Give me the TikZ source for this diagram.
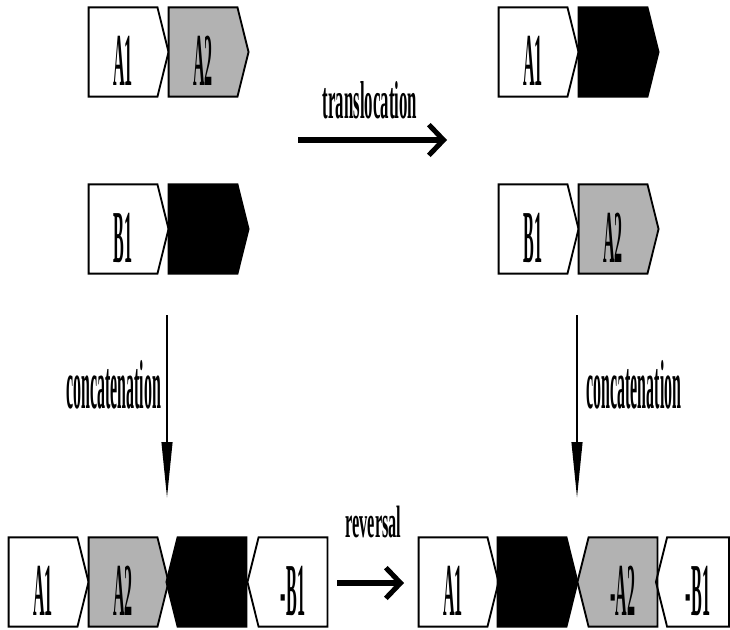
\documentclass[tikz,border=0pt]{standalone}
\usepackage{fontspec}
\setmainfont{Liberation Serif}
\usetikzlibrary{shapes.symbols,arrows.meta}
\newcommand\squeeze[2]{\scalebox{#1}[1]{#2}}

\tikzset{
  seg/.style={signal, draw=black, line width=1.4pt, inner sep=0pt,
    minimum width=60pt, minimum height=67pt, signal pointer angle=152,
    signal from=nowhere},
  fwd/.style={seg, signal to=east},
  rev/.style={seg, signal to=west},
  stip/.style={fill=black!30},
  solid/.style={fill=black},
  segtxt/.style={anchor=base, inner sep=0pt, font=\fontsize{56pt}{56pt}\selectfont\bfseries},
  steplbl/.style={anchor=base, inner sep=0pt},
  bigarrow/.style={line width=3.8pt, -{Straight Barb[length=11pt,width=23pt]}},
  thinarrow/.style={line width=1.5pt, -{Triangle[length=42pt,width=8pt]}}
}

\begin{document}
\begin{tikzpicture}[x=0.75pt,y=-0.75pt]
  \useasboundingbox (0,0) rectangle (730,629);
  % before translocation
  \node[fwd] (a1) at (123,52) {};
  \node[fwd,stip] (a2) at (203,52) {};
  \node[fwd] (b1) at (123,229) {};
  \node[fwd,solid] (b2) at (203,229) {};
  % after translocation
  \node[fwd] (ta1) at (533,52) {};
  \node[fwd,solid] (tb2) at (613,52) {};
  \node[fwd] (tb1) at (533,229) {};
  \node[fwd,stip] (ta2) at (613,229) {};
  % concatenations
  \node[fwd] (ca1) at (43,582) {};
  \node[fwd,stip] (ca2) at (123,582) {};
  \node[rev,solid] (cb2) at (212,582) {};
  \node[rev] (cb1) at (293,582) {};
  \node[fwd] (ra1) at (453,582) {};
  \node[fwd,solid] (rb2) at (532,582) {};
  \node[rev,stip] (ra2) at (623,582) {};
  \node[rev,minimum width=54.75pt] (rb1) at (698,582) {};
  \foreach \n/\t in {a1/A1,a2/A2,b1/B1,ta1/A1,tb1/B1,ta2/A2,
                     ca1/A1,ca2/A2,cb1/-B1,ra1/A1,ra2/-A2,rb1/-B1}
    \node[segtxt] (\n-t) at ([yshift=-24.75pt]\n.center) {\squeeze{0.215}{\t}};

  % arrows
  \coordinate (tr-s) at (298,140);
  \coordinate (tr-e) at (447,140);
  \draw[bigarrow] (tr-s) -- (tr-e);
  \node[steplbl,font=\fontsize{40pt}{40pt}\selectfont\bfseries] (tr-l) at (370,118) {\squeeze{0.315}{translocation}};

  \coordinate (cl-s) at (167,315);
  \coordinate (cl-e) at (167,498);
  \draw[thinarrow] (cl-s) -- (cl-e);
  \node[steplbl,font=\fontsize{52pt}{52pt}\selectfont\bfseries] (cl-l) at (113.5,408) {\squeeze{0.23}{concatenation}};

  \coordinate (cr-s) at (577,315);
  \coordinate (cr-e) at (577,498);
  \draw[thinarrow] (cr-s) -- (cr-e);
  \node[steplbl,font=\fontsize{52pt}{52pt}\selectfont\bfseries] (cr-l) at (634,408) {\squeeze{0.23}{concatenation}};

  \coordinate (rv-s) at (337,583);
  \coordinate (rv-e) at (404,583);
  \draw[bigarrow] (rv-s) -- (rv-e);
  \node[steplbl,font=\fontsize{34pt}{34pt}\selectfont\bfseries] (rv-l) at (373.5,537) {\squeeze{0.36}{reversal}};
\end{tikzpicture}
\end{document}
